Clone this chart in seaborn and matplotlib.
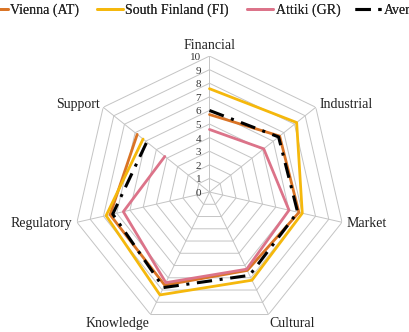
import numpy as np
import pandas as pd
import matplotlib
matplotlib.use("Agg")
import matplotlib.pyplot as plt
import matplotlib.transforms as mtransforms
import seaborn as sns

# dimensions, clockwise from the top
dims = ["Financial", "Industrial", "Market", "Cultural", "Knowledge", "Regulatory", "Support"]

vienna = [5.7, 6.6, 6.75, 6.4, 7.6, 7.5, 6.8]
south_finland = [7.6, 8.2, 7.0, 7.2, 8.4, 7.8, 6.25]
attiki = [4.6, 5.1, 6.0, 6.3, 7.4, 6.5, 4.2]
average = [6.0, 6.5, 6.65, 6.8, 7.8, 7.3, 5.9]

series_names = ["Vienna (AT)", "South Finland (FI)", "Attiki (GR)", "Average"]
series_vals = [vienna, south_finland, attiki, average]
colors = ["#DA7425", "#F5B80C", "#DC7389", "#000000"]
styles = ["-", "-", "-", (0, (5, 2.5, 1, 2.5))]
widths = [2.0, 2.0, 2.0, 2.2]
rticks = list(range(0, 11))

sns.set_style("white")
plt.rcParams["font.family"] = ["Liberation Serif", "DejaVu Serif"]

n = len(dims)
theta = np.linspace(0, 2 * np.pi, n, endpoint=False)
theta_c = np.append(theta, theta[0])

fig = plt.figure(figsize=(4.09, 3.32), dpi=100)
ax = fig.add_axes([0.1797, 0.0121, 0.665, 0.819], projection="polar")
ax.set_theta_zero_location("N")
ax.set_theta_direction(-1)
ax.set_ylim(0, 10)
ax.grid(False)
ax.spines["polar"].set_visible(False)
ax.set_facecolor("none")

# heptagon grid
for k in rticks[1:]:
    ax.plot(theta_c, [k] * (n + 1), color="#c4c4c4", lw=0.7, zorder=1)
for t in theta:
    ax.plot([t, t], [0, 10], color="#c4c4c4", lw=0.7, zorder=1)

# radial value labels
off = mtransforms.offset_copy(ax.transData, fig=fig, x=-6, y=-1, units="points")
for k in rticks:
    ax.text(0, k, str(k), transform=off, ha="right", va="center", fontsize=8, color="#333333")

# category labels
for t, name in zip(theta, dims):
    s, c = np.sin(t), np.cos(t)
    if abs(s) < 0.1:
        ha = "center"
    elif s > 0:
        ha = "left"
    else:
        ha = "right"
    if c > 0.9:
        va, r = "bottom", 10.3
    elif c < -0.5:
        va, r = "top", 10.2
    else:
        va, r = "center", 10.35
    ax.text(t, r, name, ha=ha, va=va, fontsize=10, color="#222222")

handles = []
for name, vals, col, ls, lw in zip(series_names, series_vals, colors, styles, widths):
    df = pd.DataFrame({"theta": theta_c, "value": vals + [vals[0]]})
    sns.lineplot(data=df, x="theta", y="value", sort=False, ax=ax, color=col,
                 linestyle=ls, lw=lw, zorder=3, legend=False)
    handles.append(ax.lines[-1])
    handles[-1].set_label(name)

ax.set_xlabel("")
ax.set_ylabel("")
ax.set_xticks([])
ax.set_yticks([])
ax.set_ylim(0, 10)

# legend entries placed one by one across the top
leg_x = [-0.046, 0.237, 0.604, 0.868]
for h, x in zip(handles, leg_x):
    lg = fig.legend(handles=[h], loc="upper left", bbox_to_anchor=(x, 0.988),
                    frameon=False, fontsize=10, handlelength=1.9, handletextpad=0.15,
                    borderpad=0.0, borderaxespad=0.0)
    fig.add_artist(lg)

fig.savefig("out.png", dpi=100)
